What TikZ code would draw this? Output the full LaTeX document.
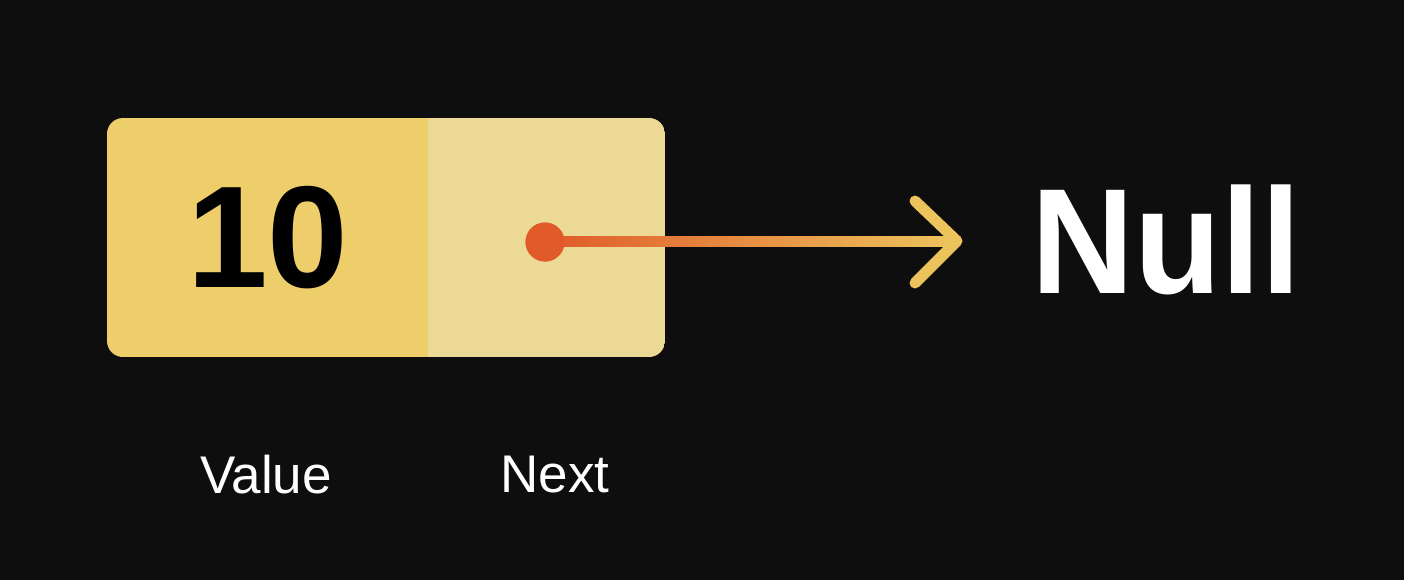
\documentclass[tikz,border=0pt]{standalone}
\usepackage{fontspec}
\setmainfont{Liberation Sans}
\usetikzlibrary{calc}
\definecolor{bg}{HTML}{0E0E0E}
\definecolor{valfill}{HTML}{EECD6B}
\definecolor{nextfill}{HTML}{EDD996}
\definecolor{dotred}{HTML}{E05A2A}
\definecolor{arrowyellow}{HTML}{EDC35C}
\tikzset{
  cell/.style={minimum width=#1, minimum height=239pt, inner sep=0pt, outer sep=0pt},
  chev/.style={draw=arrowyellow, line width=11pt, line cap=round, line join=round},
  label/.style={text=white, font=\fontsize{53}{60}\selectfont},
  pointer/.style={circle, fill=dotred, minimum size=39pt, inner sep=0pt},
}
\begin{document}
\begin{tikzpicture}[x=1pt,y=-1pt]
\fill[bg] (0,0) rectangle (1404,580);
\useasboundingbox (0,0) rectangle (1404,580);
% cells
\node[cell=321pt, anchor=north west] (val) at (107,118) {};
\node[cell=237pt, anchor=north west] (nxt) at (428,118) {};
\begin{scope}
\clip[rounded corners=16pt] (val.north west) rectangle (nxt.south east);
\fill[valfill] (val.north west) rectangle (val.south east);
\fill[nextfill] (nxt.north west) rectangle (nxt.south east);
\end{scope}
\node[font=\bfseries\fontsize{145}{160}\selectfont, text=black] (ten) at (268,238) {10};
% pointer
\node[pointer] (dot) at (545,242) {};
\coordinate (tip) at (957,241);
\shade[left color=dotred, right color=arrowyellow] ($(dot.center)+(0,-5.5)$) rectangle ($(tip)+(-5,5.5)$);
\node[pointer] at (dot) {};
\draw[chev] ($(tip)+(-42,-40)$) -- (tip) -- ($(tip)+(-42,42)$);
\node[font=\bfseries\fontsize{150}{160}\selectfont, text=white, xscale=0.95] (null) at (1166,240) {Null};
% labels
\node[label] (vlab) at (266,475) {Value};
\node[label] (nlab) at (555,475) {Next};
\end{tikzpicture}
\end{document}
